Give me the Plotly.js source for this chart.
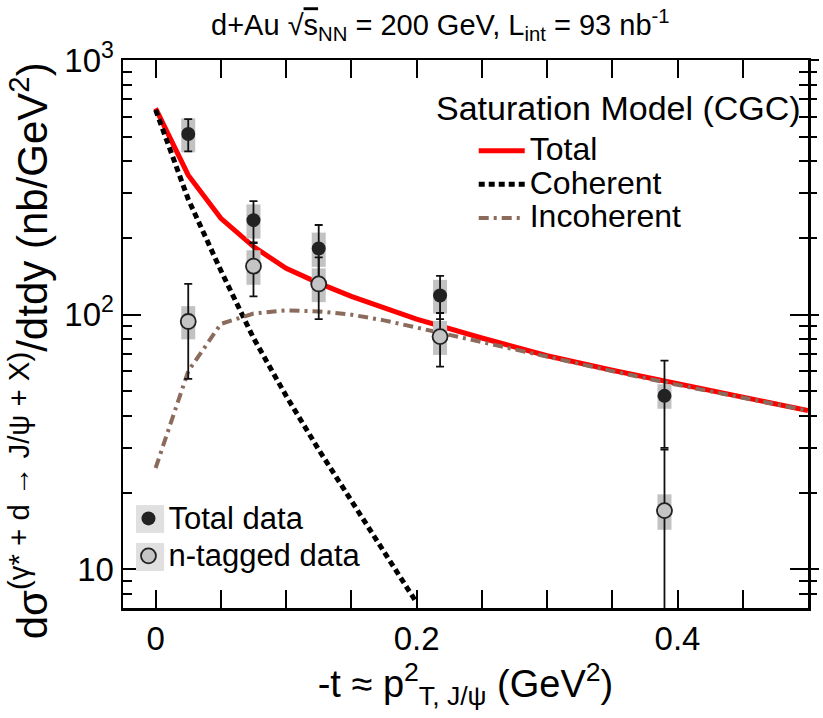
<!DOCTYPE html>
<html><head><meta charset="utf-8">
<script src="https://cdn.plot.ly/plotly-3.0.1.min.js"></script>
<style>body{margin:0;padding:0;background:#fff}#chart{width:823px;height:718px}</style>
</head><body><div id="chart"></div>
<script>
// Model curves (Saturation model, CGC)
const modelX = [0, 0.025, 0.05, 0.075, 0.1, 0.125, 0.15, 0.175, 0.2, 0.25, 0.3, 0.35, 0.4, 0.45, 0.5];
const modelTotal = [646, 353, 239, 185, 152, 133, 118, 106, 96, 81, 69, 60.5, 53.5, 47.5, 42];
const modelIncoh = [25, 60, 92, 101, 104, 103, 100, 95, 89, 78, 68, 60, 53, 47, 42];
const cohX = [0, 0.025, 0.05, 0.075, 0.1, 0.125, 0.15, 0.175, 0.2];
const modelCoh = [637, 284, 149, 81, 48, 29.5, 18.6, 11.7, 7.4];

// Data points
const dataX = [0.025, 0.075, 0.125, 0.218, 0.39];
const totalVal = [512, 235, 182, 119, 48];
const totalStat = [74, 44, 43, 23, 18];
const totalSys = [78, 36, 28, 18, 5.3];
const tagVal = [94, 155, 132, 82, 17];
const tagStat = [38, 37, 36, 19.5, 12.5];
const tagSys = [14, 24, 20, 12.5, 2.7];

// Axis ticks
const xTickVals = [0, 0.05, 0.1, 0.15, 0.2, 0.25, 0.3, 0.35, 0.4, 0.45, 0.5];
const xTickText = ['0', '', '', '', '0.2', '', '', '', '0.4', '', ''];
const yTickVals = [10, 100, 1000];
const yTickText = ['10', '10<sup>2</sup>', '10<sup>3</sup>'];
const yMinorVals = [8, 9, 20, 30, 40, 50, 60, 70, 80, 90, 200, 300, 400, 500, 600, 700, 800, 900];

const FONT = '"Liberation Sans", Arial, Helvetica, sans-serif';
const boxColor = '#c2c2c2';
const big = s => '<span style="font-size:' + s + 'px">';

const traces = [
  {x: modelX, y: modelTotal, mode: 'lines', name: big(32) + 'Total</span>',
   line: {color: '#ff0000', width: 5}, legend: 'legend'},
  {x: cohX, y: modelCoh, mode: 'lines', name: big(32) + 'Coherent</span>',
   line: {color: '#000000', width: 5, dash: '6px,4px'}, legend: 'legend'},
  {x: modelX, y: modelIncoh, mode: 'lines', name: big(32) + 'Incoherent</span>',
   line: {color: '#8b6b5c', width: 4, dash: '10px,5px,3px,5px'}, legend: 'legend'},
  // systematic boxes
  {x: dataX, y: totalVal, mode: 'markers', marker: {size: 1, opacity: 0}, showlegend: false, hoverinfo: 'skip',
   error_y: {type: 'data', array: totalSys, symmetric: true, thickness: 14, width: 0, color: boxColor}},
  {x: dataX, y: tagVal, mode: 'markers', marker: {size: 1, opacity: 0}, showlegend: false, hoverinfo: 'skip',
   error_y: {type: 'data', array: tagSys, symmetric: true, thickness: 14, width: 0, color: boxColor}},
  // statistical points
  {x: dataX, y: totalVal, mode: 'markers', name: big(31) + 'Total data</span>', legend: 'legend2',
   marker: {symbol: 'circle', size: 14, color: '#222222', line: {width: 0}},
   error_y: {type: 'data', array: totalStat, symmetric: true, thickness: 1.8, width: 4, color: '#111111'}},
  {x: dataX, y: tagVal, mode: 'markers', name: big(31) + 'n-tagged data</span>', legend: 'legend2',
   marker: {symbol: 'circle', size: 15, color: '#c4c4c4', line: {width: 1.8, color: '#222222'}},
   error_y: {type: 'data', array: tagStat, symmetric: true, thickness: 1.8, width: 4, color: '#111111'}},
  {x: [null], y: [null], yaxis: 'y2', showlegend: false, hoverinfo: 'skip', mode: 'markers'}
];

const layout = {
  width: 823, height: 718,
  margin: {l: 123, r: 15, t: 60, b: 110},
  paper_bgcolor: '#ffffff', plot_bgcolor: '#ffffff',
  font: {family: FONT, color: '#000000', size: 28},
  showlegend: true,
  title: {
    text: 'd+Au √<span style="text-decoration:overline">s</span><sub>NN</sub> = 200 GeV, L<sub>int</sub> = 93 nb<sup>-1</sup>',
    font: {family: FONT, size: 29, color: '#000'},
    x: 0.535, xanchor: 'center', xref: 'container',
    y: 0.965, yanchor: 'middle', yref: 'container'
  },
  xaxis: {
    range: [-0.025, 0.5], showgrid: false, zeroline: false,
    showline: true, linecolor: '#000', linewidth: 2.5, mirror: 'ticks',
    ticks: 'inside', ticklen: 18, tickwidth: 2, tickcolor: '#000',
    tickmode: 'array', tickvals: xTickVals, ticktext: xTickText,
    tickfont: {family: FONT, size: 33},
    title: {text: '-t ≈ p<sup>2</sup><sub>T, J/ψ</sub> (GeV<sup>2</sup>)', font: {family: FONT, size: 38}, standoff: 2}
  },
  yaxis: {
    type: 'log', range: [Math.log10(7.05), 3], showgrid: false, zeroline: false,
    showline: true, linecolor: '#000', linewidth: 2.5, mirror: 'ticks',
    ticks: 'inside', ticklen: 18, tickwidth: 2, tickcolor: '#000',
    tickmode: 'array', tickvals: yTickVals, ticktext: yTickText,
    tickfont: {family: FONT, size: 33},
    minor: {tickmode: 'array', tickvals: yMinorVals, ticks: 'inside', ticklen: 9, tickwidth: 2, tickcolor: '#000', showgrid: false}
  },
  yaxis2: {
    type: 'log', range: [Math.log10(7.05), 3], overlaying: 'y', side: 'right',
    showgrid: false, zeroline: false, showline: false, showticklabels: false,
    ticks: 'outside', ticklen: 10, tickwidth: 2, tickcolor: '#000',
    tickmode: 'array', tickvals: yTickVals,
    minor: {tickmode: 'array', tickvals: yMinorVals, ticks: 'outside', ticklen: 8, tickwidth: 2, tickcolor: '#000', showgrid: false}
  },
  legend: {
    x: 0.512, xanchor: 'left', y: 0.874, yanchor: 'top',
    bgcolor: 'rgba(0,0,0,0)', borderwidth: 0,
    font: {family: FONT, size: 23.5}, itemwidth: 46, tracegroupgap: 0
  },
  legend2: {
    x: 0.008, xanchor: 'left', y: 0.2068, yanchor: 'top',
    bgcolor: 'rgba(0,0,0,0)', borderwidth: 0,
    font: {family: FONT, size: 26.5}, itemwidth: 30
  },
  annotations: [
    {text: 'Saturation Model (CGC)', xref: 'paper', yref: 'paper', x: 0.723, y: 0.912,
     xanchor: 'center', yanchor: 'middle', showarrow: false, font: {family: FONT, size: 34}},
    {text: 'dσ<sup>(γ* + d → J/ψ + X)</sup>/dtdy (nb/GeV<sup>2</sup>)', textangle: -90,
     xref: 'paper', yref: 'paper', x: -0.136, y: 0.47, xanchor: 'center', yanchor: 'middle',
     showarrow: false, font: {family: FONT, size: 42}}
  ],
  shapes: [
    {type: 'rect', xref: 'paper', yref: 'paper', x0: 0.019, x1: 0.060, y0: 0.137, y1: 0.188,
     fillcolor: '#e0e0e0', line: {width: 0}, layer: 'above'},
    {type: 'rect', xref: 'paper', yref: 'paper', x0: 0.019, x1: 0.060, y0: 0.0675, y1: 0.1186,
     fillcolor: '#e0e0e0', line: {width: 0}, layer: 'above'}
  ]
};

Plotly.newPlot('chart', traces, layout, {displayModeBar: false, staticPlot: true});
</script>
</body></html>
